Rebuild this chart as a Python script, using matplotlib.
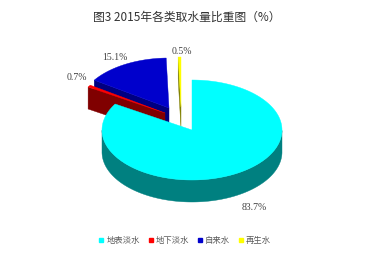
#!/usr/bin/env python3
"""Exploded 3D-style pie: share of water withdrawal by source, 2015."""

import matplotlib
matplotlib.use("Agg")
import matplotlib.pyplot as plt
import numpy as np
from matplotlib.lines import Line2D
from matplotlib.patches import Polygon

plt.rcParams["font.family"] = ["Noto Sans CJK SC", "DejaVu Sans"]

title = "图3 2015年各类取水量比重图（%）"
categories = ["地表淡水", "地下淡水", "自来水", "再生水"]
shares = [83.7, 0.7, 15.1, 0.5]
value_labels = ["83.7%", "0.7%", "15.1%", "0.5%"]

top_colors = ["#00FFFF", "#FF0000", "#0000CC", "#FFFF00"]
side_colors = ["#008080", "#800000", "#000080", "#808000"]

# layout (pixel-like units, y axis points down)
CX, CY = 192.0, 130.0
RX, RY = 90.0, 50.0
DEPTH = 22.0
offsets = [(0, 0), (-27, -17), (-23, -22), (-11, -23)]
label_pos = [(254, 208), (77, 78), (115, 57), (182, 52)]
draw_order = [3, 2, 1, 0]


def pt(t_deg, dx, dy, down=0.0):
    t = np.radians(t_deg)
    return CX + dx + RX * np.cos(t), CY + dy - RY * np.sin(t) + down


def slice_ranges(vals):
    total = float(sum(vals))
    cum = np.cumsum([0.0] + list(vals)) / total
    # clockwise from 12 o'clock; return ccw [a, b]
    return [(90 - 360 * cum[i + 1], 90 - 360 * cum[i]) for i in range(len(vals))]


fig = plt.figure(figsize=(3.74, 2.59), dpi=100)
ax = fig.add_axes([0, 0, 1, 1])
ax.set_xlim(0, 374)
ax.set_ylim(259, 0)
ax.axis("off")

ranges = slice_ranges(shares)
for i in draw_order:
    a, b = ranges[i]
    dx, dy = offsets[i]
    apex_top = (CX + dx, CY + dy)
    apex_bot = (CX + dx, CY + dy + DEPTH)
    kw = dict(closed=True, linewidth=0.3)

    # outer wall: front half only (sin < 0)
    ts = np.linspace(a, b, 400)
    front = ts[np.sin(np.radians(ts)) <= 0]
    if front.size > 1:
        top_arc = [pt(t, dx, dy) for t in front]
        bot_arc = [pt(t, dx, dy, DEPTH) for t in front[::-1]]
        ax.add_patch(Polygon(top_arc + bot_arc, facecolor=side_colors[i],
                             edgecolor=side_colors[i], **kw))

    # cut faces
    for ang, visible in ((a, np.cos(np.radians(a)) > 0),
                         (b, np.cos(np.radians(b)) < 0)):
        if visible:
            face = [apex_top, pt(ang, dx, dy), pt(ang, dx, dy, DEPTH), apex_bot]
            ax.add_patch(Polygon(face, facecolor=side_colors[i],
                                 edgecolor=side_colors[i], **kw))

    # top face
    arc = [pt(t, dx, dy) for t in np.linspace(a, b, 400)]
    ax.add_patch(Polygon([apex_top] + arc, facecolor=top_colors[i],
                         edgecolor=top_colors[i], **kw))

for lab, (x, y) in zip(value_labels, label_pos):
    ax.text(x, y, lab, ha="center", va="center", fontsize=7,
            family="Liberation Serif", color="#404040")

fig.text(0.5, 1 - 17 / 259, title, ha="center", va="center",
         fontsize=8.5, color="#333333")

handles = [Line2D([], [], marker="s", linestyle="none", markersize=3.5,
                  markerfacecolor=c, markeredgecolor=c) for c in top_colors]
fig.legend(handles, categories, loc="center", ncol=4,
           bbox_to_anchor=(185 / 374, 1 - 240 / 259), frameon=False,
           fontsize=6, handlelength=0.6, handletextpad=0.3,
           columnspacing=1.0, labelcolor="#595959")

fig.savefig("out.png", dpi=100)
